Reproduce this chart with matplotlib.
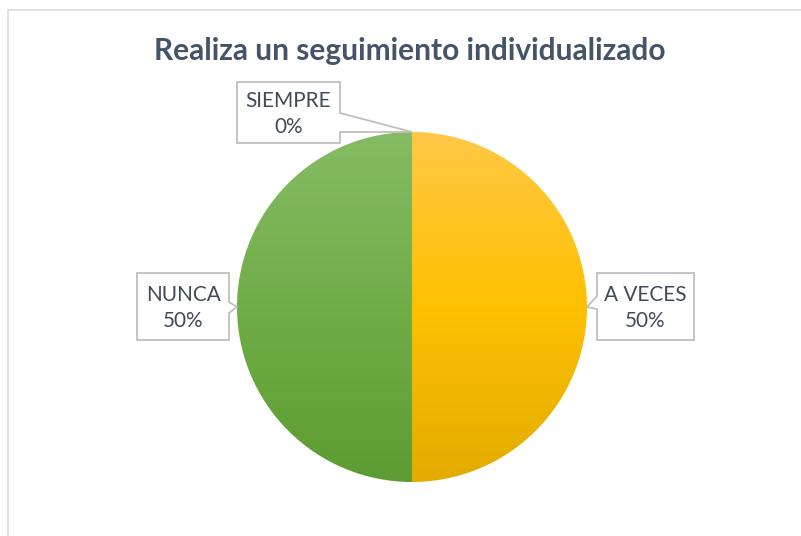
import numpy as np
import matplotlib
matplotlib.use("Agg")
import matplotlib.pyplot as plt
from matplotlib.patches import Polygon, Rectangle
from matplotlib.colors import LinearSegmentedColormap

# ---- data ----
categories = ["SIEMPRE", "A VECES", "NUNCA"]
values = [0, 50, 50]
pct_labels = ["0%", "50%", "50%"]
title = "Realiza un seguimiento individualizado"

# ---- style ----
W, H = 801, 536
FONT = ["Lato", "DejaVu Sans"]
text_color = "#404B5A"
title_color = "#44546A"
grad = {
    "A VECES": ["#FFC846", "#FFC000", "#E2AC00"],
    "NUNCA": ["#86BC64", "#70AD47", "#5D9C32"],
    "SIEMPRE": ["#5B9BD5", "#5B9BD5", "#5B9BD5"],
}

fig = plt.figure(figsize=(W / 100, H / 100), dpi=100)
ax = fig.add_axes([0, 0, 1, 1])

def Y(y):  # convert top-down pixel to data y
    return H - y

cx, cy, R = 412, Y(307), 175
wedges, _ = ax.pie(values, startangle=90, counterclock=False,
                   center=(cx, cy), radius=R, frame=True,
                   wedgeprops=dict(linewidth=0))
ax.set_xlim(0, W)
ax.set_ylim(0, H)
ax.set_aspect("equal")
ax.axis("off")

# chart frame
ax.add_patch(Rectangle((8, Y(H + 20)), W + 20, H + 10, fill=False,
                       edgecolor="#D9DEE4", lw=1.2))

# vertical gradient fills clipped to wedges
for w, cat in zip(wedges, categories):
    cmap = LinearSegmentedColormap.from_list(cat, grad[cat][::-1])
    g = np.linspace(0, 1, 256).reshape(-1, 1)
    im = ax.imshow(g, cmap=cmap, origin="lower", aspect="auto",
                   extent=(cx - R, cx + R, cy - R, cy + R), zorder=2)
    im.set_clip_path(w)
    w.set_facecolor("none")
ax.set_xlim(0, W)
ax.set_ylim(0, H)

# title
t = ax.text(410, Y(51), title, ha="center", va="center",
            fontsize=19, fontweight="bold", color=title_color, family=FONT)
fig.canvas.draw()
bb = t.get_window_extent()
t.set_fontsize(19 * 510 / bb.width)

# label font size fitted to the reference width of "SIEMPRE"
probe = ax.text(0, 0, "SIEMPRE", fontsize=13, family=FONT)
fig.canvas.draw()
lab_fs = 13 * 85 / probe.get_window_extent().width
probe.remove()

# callouts: box (x0, y0, x1, y1) top-down pixels, side of tail, tail span
boxes = {
    "SIEMPRE": ((237, 82, 340, 143), "right", (113, 132)),
    "A VECES": ((597, 273, 694, 340), "left", (296, 309)),
    "NUNCA": ((137, 273, 229, 340), "right", (302, 313)),
}

for w, cat, pl in zip(wedges, categories, pct_labels):
    ang = np.deg2rad((w.theta1 + w.theta2) / 2)
    tip = (cx + R * np.cos(ang), cy + R * np.sin(ang))
    (x0, y0, x1, y1), side, (ta, tb) = boxes[cat]
    if side == "right":
        pts = [(x0, Y(y0)), (x1, Y(y0)), (x1, Y(ta)), tip, (x1, Y(tb)),
               (x1, Y(y1)), (x0, Y(y1))]
    else:
        pts = [(x0, Y(y0)), (x1, Y(y0)), (x1, Y(y1)), (x0, Y(y1)),
               (x0, Y(tb)), tip, (x0, Y(ta))]
    ax.add_patch(Polygon(pts, closed=True, facecolor="white",
                         edgecolor="#BFBFBF", lw=1.3, zorder=4))
    ax.text((x0 + x1) / 2, Y((y0 + y1) / 2 + 1.5), f"{cat}\n{pl}", ha="center",
            va="center", fontsize=lab_fs, color=text_color, family=FONT,
            linespacing=1.4, zorder=5)

fig.savefig("out.png", dpi=100)
